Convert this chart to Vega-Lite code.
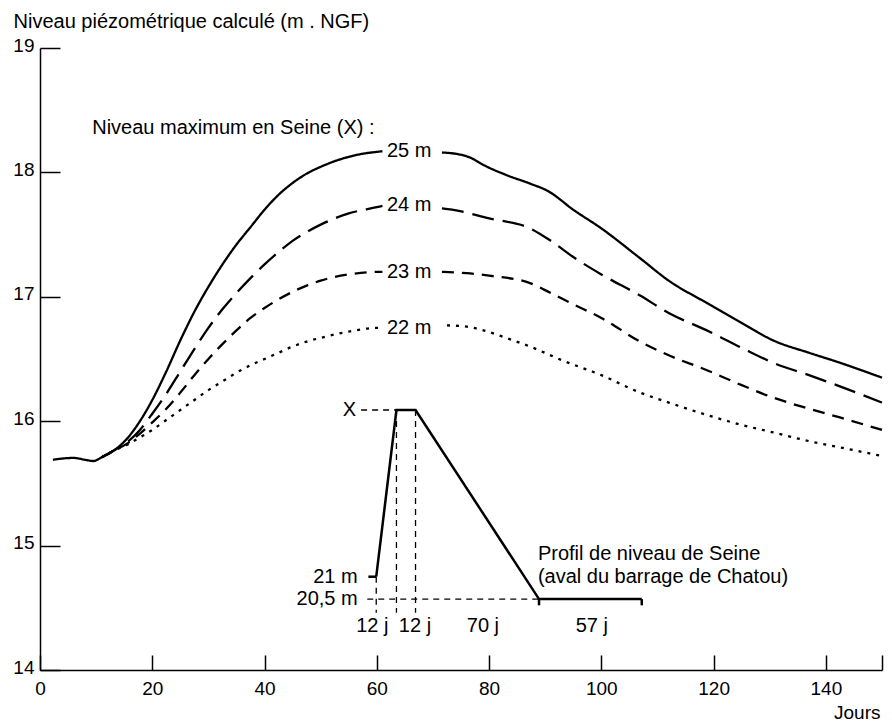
{
  "$schema": "https://vega.github.io/schema/vega-lite/v6.json",
  "width": 842,
  "height": 622,
  "autosize": {"type": "none"},
  "padding": {"left": 40, "top": 48, "right": 10, "bottom": 52},
  "background": "white",
  "config": {
    "view": {"stroke": null},
    "font": "Liberation Sans",
    "axis": {
      "grid": false,
      "domainColor": "black",
      "domainWidth": 1.5,
      "tickColor": "black",
      "tickWidth": 1.5,
      "labelColor": "black",
      "labelFontSize": 19,
      "labelFont": "Liberation Sans",
      "titleFont": "Liberation Sans",
      "titleFontSize": 19,
      "titleFontWeight": "normal",
      "titleColor": "black"
    }
  },
  "datasets": {
    "curves": [
      {"s": "25 m", "p": "a", "d": 2.3, "v": 15.69},
      {"s": "25 m", "p": "a", "d": 4, "v": 15.7},
      {"s": "25 m", "p": "a", "d": 6, "v": 15.705},
      {"s": "25 m", "p": "a", "d": 8, "v": 15.69},
      {"s": "25 m", "p": "a", "d": 9.5, "v": 15.68},
      {"s": "25 m", "p": "a", "d": 11, "v": 15.71},
      {"s": "25 m", "p": "a", "d": 13, "v": 15.76},
      {"s": "25 m", "p": "a", "d": 15.5, "v": 15.86},
      {"s": "25 m", "p": "a", "d": 17.8, "v": 16.0},
      {"s": "25 m", "p": "a", "d": 20, "v": 16.17},
      {"s": "25 m", "p": "a", "d": 22.5, "v": 16.4},
      {"s": "25 m", "p": "a", "d": 25, "v": 16.65},
      {"s": "25 m", "p": "a", "d": 27.5, "v": 16.88},
      {"s": "25 m", "p": "a", "d": 30, "v": 17.08},
      {"s": "25 m", "p": "a", "d": 32.5, "v": 17.26},
      {"s": "25 m", "p": "a", "d": 35, "v": 17.42},
      {"s": "25 m", "p": "a", "d": 37.5, "v": 17.56},
      {"s": "25 m", "p": "a", "d": 40, "v": 17.7},
      {"s": "25 m", "p": "a", "d": 42.5, "v": 17.82},
      {"s": "25 m", "p": "a", "d": 45, "v": 17.915},
      {"s": "25 m", "p": "a", "d": 47.5, "v": 17.99},
      {"s": "25 m", "p": "a", "d": 50, "v": 18.045},
      {"s": "25 m", "p": "a", "d": 52.5, "v": 18.09},
      {"s": "25 m", "p": "a", "d": 55, "v": 18.125},
      {"s": "25 m", "p": "a", "d": 57.5, "v": 18.15},
      {"s": "25 m", "p": "a", "d": 60, "v": 18.165},
      {"s": "25 m", "p": "a", "d": 61, "v": 18.17},
      {"s": "25 m", "p": "b", "d": 71.6, "v": 18.16},
      {"s": "25 m", "p": "b", "d": 74, "v": 18.15},
      {"s": "25 m", "p": "b", "d": 76.6, "v": 18.12},
      {"s": "25 m", "p": "b", "d": 79, "v": 18.06},
      {"s": "25 m", "p": "b", "d": 83, "v": 17.98},
      {"s": "25 m", "p": "b", "d": 87.3, "v": 17.91},
      {"s": "25 m", "p": "b", "d": 90.5, "v": 17.85},
      {"s": "25 m", "p": "b", "d": 95, "v": 17.7},
      {"s": "25 m", "p": "b", "d": 100, "v": 17.55},
      {"s": "25 m", "p": "b", "d": 106.9, "v": 17.31},
      {"s": "25 m", "p": "b", "d": 112, "v": 17.13},
      {"s": "25 m", "p": "b", "d": 118.8, "v": 16.95},
      {"s": "25 m", "p": "b", "d": 125, "v": 16.79},
      {"s": "25 m", "p": "b", "d": 130.6, "v": 16.65},
      {"s": "25 m", "p": "b", "d": 137, "v": 16.55},
      {"s": "25 m", "p": "b", "d": 142.5, "v": 16.47},
      {"s": "25 m", "p": "b", "d": 150, "v": 16.35},

      {"s": "24 m", "p": "a", "d": 11, "v": 15.71},
      {"s": "24 m", "p": "a", "d": 13, "v": 15.76},
      {"s": "24 m", "p": "a", "d": 15.5, "v": 15.83},
      {"s": "24 m", "p": "a", "d": 17.8, "v": 15.93},
      {"s": "24 m", "p": "a", "d": 20, "v": 16.06},
      {"s": "24 m", "p": "a", "d": 22.5, "v": 16.22},
      {"s": "24 m", "p": "a", "d": 25, "v": 16.4},
      {"s": "24 m", "p": "a", "d": 27.5, "v": 16.58},
      {"s": "24 m", "p": "a", "d": 30, "v": 16.75},
      {"s": "24 m", "p": "a", "d": 32.5, "v": 16.9},
      {"s": "24 m", "p": "a", "d": 35, "v": 17.03},
      {"s": "24 m", "p": "a", "d": 37.5, "v": 17.15},
      {"s": "24 m", "p": "a", "d": 40, "v": 17.26},
      {"s": "24 m", "p": "a", "d": 42.5, "v": 17.36},
      {"s": "24 m", "p": "a", "d": 45, "v": 17.45},
      {"s": "24 m", "p": "a", "d": 47.5, "v": 17.52},
      {"s": "24 m", "p": "a", "d": 50, "v": 17.58},
      {"s": "24 m", "p": "a", "d": 55, "v": 17.67},
      {"s": "24 m", "p": "a", "d": 60, "v": 17.72},
      {"s": "24 m", "p": "a", "d": 61, "v": 17.73},
      {"s": "24 m", "p": "b", "d": 71.6, "v": 17.71},
      {"s": "24 m", "p": "b", "d": 73.4, "v": 17.7},
      {"s": "24 m", "p": "b", "d": 80, "v": 17.63},
      {"s": "24 m", "p": "b", "d": 87.3, "v": 17.55},
      {"s": "24 m", "p": "b", "d": 91, "v": 17.45},
      {"s": "24 m", "p": "b", "d": 95, "v": 17.32},
      {"s": "24 m", "p": "b", "d": 100, "v": 17.18},
      {"s": "24 m", "p": "b", "d": 106.9, "v": 17.01},
      {"s": "24 m", "p": "b", "d": 112, "v": 16.87},
      {"s": "24 m", "p": "b", "d": 118.8, "v": 16.73},
      {"s": "24 m", "p": "b", "d": 125, "v": 16.59},
      {"s": "24 m", "p": "b", "d": 130.6, "v": 16.47},
      {"s": "24 m", "p": "b", "d": 137, "v": 16.37},
      {"s": "24 m", "p": "b", "d": 142.5, "v": 16.28},
      {"s": "24 m", "p": "b", "d": 150, "v": 16.15},

      {"s": "23 m", "p": "a", "d": 11, "v": 15.71},
      {"s": "23 m", "p": "a", "d": 13, "v": 15.76},
      {"s": "23 m", "p": "a", "d": 15.5, "v": 15.82},
      {"s": "23 m", "p": "a", "d": 17.8, "v": 15.9},
      {"s": "23 m", "p": "a", "d": 20, "v": 15.99},
      {"s": "23 m", "p": "a", "d": 22.5, "v": 16.1},
      {"s": "23 m", "p": "a", "d": 25, "v": 16.23},
      {"s": "23 m", "p": "a", "d": 27.5, "v": 16.37},
      {"s": "23 m", "p": "a", "d": 30, "v": 16.5},
      {"s": "23 m", "p": "a", "d": 32.5, "v": 16.62},
      {"s": "23 m", "p": "a", "d": 35, "v": 16.73},
      {"s": "23 m", "p": "a", "d": 37.5, "v": 16.83},
      {"s": "23 m", "p": "a", "d": 40, "v": 16.91},
      {"s": "23 m", "p": "a", "d": 42.5, "v": 16.98},
      {"s": "23 m", "p": "a", "d": 45, "v": 17.04},
      {"s": "23 m", "p": "a", "d": 47.5, "v": 17.09},
      {"s": "23 m", "p": "a", "d": 50, "v": 17.13},
      {"s": "23 m", "p": "a", "d": 55, "v": 17.18},
      {"s": "23 m", "p": "a", "d": 60, "v": 17.2},
      {"s": "23 m", "p": "a", "d": 61, "v": 17.2},
      {"s": "23 m", "p": "b", "d": 71.6, "v": 17.2},
      {"s": "23 m", "p": "b", "d": 76, "v": 17.19},
      {"s": "23 m", "p": "b", "d": 80, "v": 17.17},
      {"s": "23 m", "p": "b", "d": 87.3, "v": 17.11},
      {"s": "23 m", "p": "b", "d": 91, "v": 17.03},
      {"s": "23 m", "p": "b", "d": 95, "v": 16.94},
      {"s": "23 m", "p": "b", "d": 100, "v": 16.83},
      {"s": "23 m", "p": "b", "d": 106.9, "v": 16.64},
      {"s": "23 m", "p": "b", "d": 112, "v": 16.53},
      {"s": "23 m", "p": "b", "d": 118.8, "v": 16.41},
      {"s": "23 m", "p": "b", "d": 125, "v": 16.29},
      {"s": "23 m", "p": "b", "d": 130.6, "v": 16.19},
      {"s": "23 m", "p": "b", "d": 137, "v": 16.1},
      {"s": "23 m", "p": "b", "d": 142.5, "v": 16.03},
      {"s": "23 m", "p": "b", "d": 150, "v": 15.93},

      {"s": "22 m", "p": "a", "d": 11, "v": 15.71},
      {"s": "22 m", "p": "a", "d": 13, "v": 15.76},
      {"s": "22 m", "p": "a", "d": 15.5, "v": 15.81},
      {"s": "22 m", "p": "a", "d": 17.8, "v": 15.87},
      {"s": "22 m", "p": "a", "d": 20, "v": 15.93},
      {"s": "22 m", "p": "a", "d": 22.5, "v": 16.01},
      {"s": "22 m", "p": "a", "d": 25, "v": 16.09},
      {"s": "22 m", "p": "a", "d": 27.5, "v": 16.17},
      {"s": "22 m", "p": "a", "d": 30, "v": 16.25},
      {"s": "22 m", "p": "a", "d": 32.5, "v": 16.32},
      {"s": "22 m", "p": "a", "d": 35, "v": 16.39},
      {"s": "22 m", "p": "a", "d": 37.5, "v": 16.45},
      {"s": "22 m", "p": "a", "d": 40, "v": 16.5},
      {"s": "22 m", "p": "a", "d": 42.5, "v": 16.55},
      {"s": "22 m", "p": "a", "d": 45, "v": 16.6},
      {"s": "22 m", "p": "a", "d": 47.5, "v": 16.64},
      {"s": "22 m", "p": "a", "d": 50, "v": 16.67},
      {"s": "22 m", "p": "a", "d": 55, "v": 16.72},
      {"s": "22 m", "p": "a", "d": 60, "v": 16.75},
      {"s": "22 m", "p": "a", "d": 61, "v": 16.75},
      {"s": "22 m", "p": "b", "d": 72.5, "v": 16.77},
      {"s": "22 m", "p": "b", "d": 76, "v": 16.76},
      {"s": "22 m", "p": "b", "d": 79, "v": 16.73},
      {"s": "22 m", "p": "b", "d": 83, "v": 16.67},
      {"s": "22 m", "p": "b", "d": 87.3, "v": 16.6},
      {"s": "22 m", "p": "b", "d": 93, "v": 16.49},
      {"s": "22 m", "p": "b", "d": 100, "v": 16.37},
      {"s": "22 m", "p": "b", "d": 106.9, "v": 16.23},
      {"s": "22 m", "p": "b", "d": 112, "v": 16.15},
      {"s": "22 m", "p": "b", "d": 118.8, "v": 16.05},
      {"s": "22 m", "p": "b", "d": 125, "v": 15.97},
      {"s": "22 m", "p": "b", "d": 130.6, "v": 15.91},
      {"s": "22 m", "p": "b", "d": 137, "v": 15.84},
      {"s": "22 m", "p": "b", "d": 142.5, "v": 15.79},
      {"s": "22 m", "p": "b", "d": 150, "v": 15.72}
    ],
    "profile": [
      {"id": "prof", "t": "solid", "k": 1, "d": 59.9, "v": 14.75},
      {"id": "prof", "t": "solid", "k": 2, "d": 63.5, "v": 16.09},
      {"id": "prof", "t": "solid", "k": 3, "d": 66.9, "v": 16.09},
      {"id": "prof", "t": "solid", "k": 4, "d": 88.9, "v": 14.57},
      {"id": "prof", "t": "solid", "k": 5, "d": 107.2, "v": 14.57},
      {"id": "t21", "t": "solid", "k": 1, "d": 58.5, "v": 14.75},
      {"id": "t21", "t": "solid", "k": 2, "d": 59.9, "v": 14.75},
      {"id": "tk1", "t": "solid", "k": 1, "d": 88.9, "v": 14.57},
      {"id": "tk1", "t": "solid", "k": 2, "d": 88.9, "v": 14.52},
      {"id": "tk2", "t": "solid", "k": 1, "d": 107.2, "v": 14.57},
      {"id": "tk2", "t": "solid", "k": 2, "d": 107.2, "v": 14.52},
      {"id": "base", "t": "dash", "k": 1, "d": 58.3, "v": 14.57},
      {"id": "base", "t": "dash", "k": 2, "d": 88.9, "v": 14.57},
      {"id": "v1", "t": "dash", "k": 1, "d": 59.9, "v": 14.75},
      {"id": "v1", "t": "dash", "k": 2, "d": 59.9, "v": 14.46},
      {"id": "v2", "t": "dash", "k": 1, "d": 63.5, "v": 16.09},
      {"id": "v2", "t": "dash", "k": 2, "d": 63.5, "v": 14.46},
      {"id": "v3", "t": "dash", "k": 1, "d": 66.9, "v": 16.09},
      {"id": "v3", "t": "dash", "k": 2, "d": 66.9, "v": 14.46},
      {"id": "xl", "t": "dash", "k": 1, "d": 57.2, "v": 16.09},
      {"id": "xl", "t": "dash", "k": 2, "d": 63.5, "v": 16.09}
    ],
    "labels": [
      {"txt": "Niveau maximum en Seine (X) :", "a": "left", "d": 9.3, "v": 18.36},
      {"txt": "25 m", "a": "left", "d": 61.8, "v": 18.17},
      {"txt": "24 m", "a": "left", "d": 61.8, "v": 17.74},
      {"txt": "23 m", "a": "left", "d": 61.8, "v": 17.2},
      {"txt": "22 m", "a": "left", "d": 61.8, "v": 16.75},
      {"txt": "Profil de niveau de Seine", "a": "left", "d": 88.7, "v": 14.93},
      {"txt": "(aval du barrage de Chatou)", "a": "left", "d": 88.7, "v": 14.75},
      {"txt": "X", "a": "right", "d": 56.3, "v": 16.09},
      {"txt": "21 m", "a": "right", "d": 56.6, "v": 14.75},
      {"txt": "20,5 m", "a": "right", "d": 56.6, "v": 14.57},
      {"txt": "12 j", "a": "center", "d": 59.2, "v": 14.35},
      {"txt": "12 j", "a": "center", "d": 66.8, "v": 14.35},
      {"txt": "70 j", "a": "center", "d": 78.9, "v": 14.35},
      {"txt": "57 j", "a": "center", "d": 98.3, "v": 14.35}
    ]
  },
  "layer": [
    {
      "data": {"name": "curves"},
      "mark": {"type": "line", "color": "black", "strokeWidth": 2.3, "interpolate": "monotone", "strokeCap": "butt"},
      "encoding": {
        "x": {
          "field": "d", "type": "quantitative",
          "scale": {"domain": [0, 150], "nice": false, "zero": false},
          "axis": {
            "values": [0, 20, 40, 60, 80, 100, 120, 140, 150],
            "labelExpr": "datum.value == 150 ? '' : datum.label",
            "tickSize": -15,
            "labelPadding": 24,
            "labelFlush": false,
            "labelOverlap": false,
            "title": "Jours",
            "titleAlign": "right",
            "titleAnchor": "end",
            "titleX": 840,
            "titleY": 48,
            "titleBaseline": "alphabetic"
          }
        },
        "y": {
          "field": "v", "type": "quantitative",
          "scale": {"domain": [14, 19], "nice": false, "zero": false},
          "axis": {
            "values": [14, 15, 16, 17, 18, 19],
            "format": "d",
            "tickSize": -20,
            "labelPadding": 26,
            "labelBaseline": "alphabetic",
            "labelOffset": 3,
            "labelFlush": false,
            "labelOverlap": false,
            "title": "Niveau piézométrique calculé (m . NGF)",
            "titleAngle": 0,
            "titleAlign": "left",
            "titleAnchor": "start",
            "titleBaseline": "alphabetic",
            "titleX": -27,
            "titleY": -21,
            "titleFontSize": 20
          }
        },
        "detail": {"field": "p"},
        "strokeDash": {
          "field": "s", "type": "nominal",
          "scale": {"domain": ["25 m", "24 m", "23 m", "22 m"], "range": [[1, 0], [22, 9], [12, 8], [3, 6]]},
          "legend": null
        }
      }
    },
    {
      "data": {"name": "profile"},
      "transform": [{"filter": "datum.t == 'solid'"}],
      "mark": {"type": "line", "color": "black", "strokeCap": "butt", "strokeWidth": 2.5},
      "encoding": {
        "x": {"field": "d", "type": "quantitative"},
        "y": {"field": "v", "type": "quantitative"},
        "detail": {"field": "id"},
        "order": {"field": "k"}
      }
    },
    {
      "data": {"name": "profile"},
      "transform": [{"filter": "datum.t == 'dash'"}],
      "mark": {"type": "line", "color": "black", "strokeCap": "butt", "strokeWidth": 1.3, "strokeDash": [6, 5]},
      "encoding": {
        "x": {"field": "d", "type": "quantitative"},
        "y": {"field": "v", "type": "quantitative"},
        "detail": {"field": "id"},
        "order": {"field": "k"}
      }
    },
    {
      "data": {"name": "labels"},
      "transform": [{"filter": "datum.a == 'left'"}],
      "mark": {"type": "text", "align": "left", "baseline": "middle", "fontSize": 20, "font": "Liberation Sans", "color": "black"},
      "encoding": {
        "x": {"field": "d", "type": "quantitative"},
        "y": {"field": "v", "type": "quantitative"},
        "text": {"field": "txt"}
      }
    },
    {
      "data": {"name": "labels"},
      "transform": [{"filter": "datum.a == 'right'"}],
      "mark": {"type": "text", "align": "right", "baseline": "middle", "fontSize": 20, "font": "Liberation Sans", "color": "black"},
      "encoding": {
        "x": {"field": "d", "type": "quantitative"},
        "y": {"field": "v", "type": "quantitative"},
        "text": {"field": "txt"}
      }
    },
    {
      "data": {"name": "labels"},
      "transform": [{"filter": "datum.a == 'center'"}],
      "mark": {"type": "text", "align": "center", "baseline": "middle", "fontSize": 20, "font": "Liberation Sans", "color": "black"},
      "encoding": {
        "x": {"field": "d", "type": "quantitative"},
        "y": {"field": "v", "type": "quantitative"},
        "text": {"field": "txt"}
      }
    }
  ]
}
